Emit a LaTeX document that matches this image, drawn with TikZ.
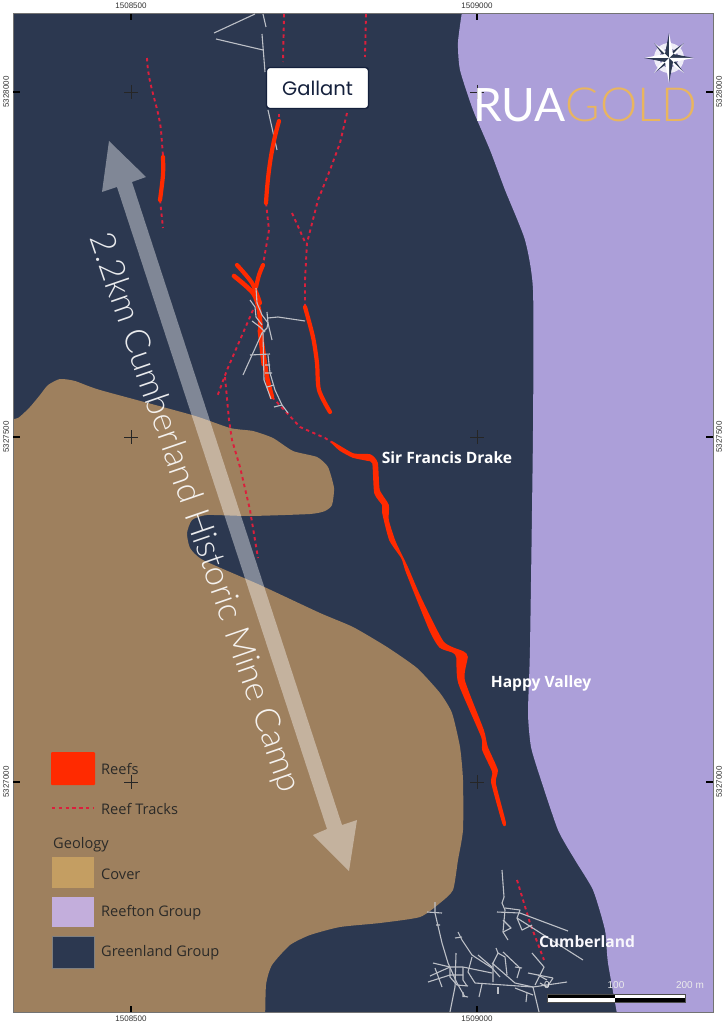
\documentclass[tikz,border=0pt]{standalone}
\usepackage{fontspec}
\setmainfont{Open Sans}
\newfontfamily\mapfont{Liberation Sans}
\newfontfamily\logofont{Lato}[UprightFont=* Light]
\newfontfamily\logoreg{Lato}
\newfontfamily\tagfont{Poppins}
\definecolor{green}{HTML}{2C3850}
\definecolor{reefton}{HTML}{AC9FD9}
\definecolor{cover}{HTML}{9E805E}
\definecolor{reefred}{HTML}{FF2A00}
\definecolor{trackred}{HTML}{DC1F3C}
\definecolor{working}{HTML}{BDC0C7}
\definecolor{legtext}{HTML}{2B2A28}
\definecolor{gold}{HTML}{E9B55F}
\definecolor{legcover}{HTML}{C49E62}
\definecolor{legreefton}{HTML}{C3AEDC}
\definecolor{navyline}{HTML}{14203C}
\tikzset{
  reef/.style={draw=reefred,line width=#1,line cap=round,line join=round},
  track/.style={draw=trackred,line width=1.9pt,dash pattern=on 3.4pt off 3.4pt},
  wk/.style={draw=working,line width=1.1pt,line join=round},
  axislabel/.style={font=\mapfont\fontsize{8}{9}\selectfont,text=black!80,inner sep=0pt},
  maplabel/.style={font=\bfseries\fontsize{15.6}{18}\selectfont,text=white,inner sep=0pt},
  legendlabel/.style={font=\fontsize{14.6}{16}\selectfont,text=legtext,inner sep=0pt,anchor=west},
  barlabel/.style={font=\mapfont\fontsize{10}{11}\selectfont,text=white!92!black,inner sep=0pt},
}
\begin{document}
\begin{tikzpicture}[x=1pt,y=-1pt]
\useasboundingbox (0,0) rectangle (725,1024);
\fill[white] (0,0) rectangle (725,1024);
\begin{scope}
\clip (13,14) rectangle (713,1012);
\fill[green] (13,14) rectangle (713,1012);
% Reefton group
\fill[reefton] plot[smooth,tension=.35] coordinates {(463,5) (458,42) (460,70) (473,110) (490,150) (505,190) (525,240) (533,290)
  (533,430) (530,647) (528,713) (531,747) (540,777) (558,830) (575,860) (593,890)
  (605,930) (608,963) (620,1030)} -- (730,1030) -- (730,5) -- cycle;
% Cover
\fill[cover] plot[smooth,tension=.35] coordinates {(5,420) (18,418) (30,407) (40,395) (48,385) (60,379) (75,381) (100,390)
  (192,415) (230,428) (253,431) (273,438) (293,451) (317,457) (328,467) (334,488)
  (332,505) (325,511) (310,514) (250,516) (207,515) (192,520) (187,533) (190,548)
  (203,560) (260,585) (320,613) (353,627) (387,647) (417,668) (440,693) (452,713)
  (460,747) (463,780) (463,830) (458,860) (453,890) (440,903) (420,917) (380,923)
  (340,927) (310,935) (290,945) (272,965) (266,985) (265,1030)} -- (5,1030) -- cycle;
\end{scope}
% graticule crosses
\foreach \cx in {131,477}\foreach \cy in {92,437,782}{
  \draw[black!85,line width=.8pt] (\cx-7,\cy) -- (\cx+7,\cy) (\cx,\cy-7) -- (\cx,\cy+7);
}
% frame
\draw[black!55,line width=1pt] (13,14) rectangle (713,1012);
\foreach \cx in {131,477}{
  \draw[black,line width=1.3pt] (\cx,14) -- (\cx,20) (\cx,1006) -- (\cx,1012);
}
\foreach \cy in {92,437,782}{
  \draw[black,line width=1.3pt] (13,\cy) -- (20,\cy) (706,\cy) -- (713,\cy);
}
\node[axislabel] (xa) at (131,6) {1508500};
\node[axislabel] (xb) at (477,6) {1509000};
\node[axislabel] (xc) at (131,1019) {1508500};
\node[axislabel] (xd) at (477,1019) {1509000};
\node[axislabel,rotate=90] (ya) at (6,92) {5328000};
\node[axislabel,rotate=90] (yb) at (6,437) {5327500};
\node[axislabel,rotate=90] (yc) at (6,782) {5327000};
\node[axislabel,rotate=90] (yd) at (719,92) {5328000};
\node[axislabel,rotate=90] (ye) at (719,437) {5327500};
\node[axislabel,rotate=90] (yf) at (719,782) {5327000};
% workings, north
\draw[wk] (255,14) -- (214,33) (216,39) -- (263,50) (263,14) -- (266,27) (262,34) -- (265,72) (268,110) -- (277,150);
% tracks
\draw[track] (147,58) .. controls (148,85) and (158,105) .. (161,130) -- (163,156);
\draw[track] (160,200) -- (163,228);
\draw[track] (284,14) -- (283,62);
\draw[track] (279,114) -- (279,121);
\draw[track] (266,203) -- (269,230) -- (263,265);
\draw[track] (366,14) -- (365,57);
\draw[track] (347,113) -- (340,143) -- (330,170) -- (318,200) -- (307,243) -- (305,280) -- (305,307);
\draw[track] (292,213) -- (305,242);
\draw[track] (253,310) -- (243,333) -- (227,370) -- (217,397);
\draw[track] (225,377) -- (229,420) -- (232,440) -- (240,467) -- (250,510) -- (258,558);
\draw[track] (272,397) -- (287,413) -- (300,427) -- (325,438) -- (333,443);
\draw[track] (517,880) -- (530,923) -- (544,960);
% short reefs
\draw[reef=4.2pt] plot[smooth] coordinates {(163,157) (163,175) (160,200)};
\draw[reef=4.2pt] (279,121) .. controls (272,145) and (268,170) .. (266,203);
\draw[reef=4.2pt] plot[smooth] coordinates {(263,265) (259,275) (256,287)};
\draw[reef=4.2pt] plot[smooth] coordinates {(237,265) (252,283) (260,303)};
\draw[reef=4.6pt] plot[smooth] coordinates {(234,276) (253,293) (259,310) (261,335) (263,350) (267,377) (272,397)};
\draw[reef=3pt] (259,330) -- (263,365);
\draw[reef=4.2pt] plot[smooth] coordinates {(305,307) (313,337) (317,363) (319,390) (330,412)};
% main reef
\filldraw[fill=reefred,draw=reefred,line width=1.6pt,line join=round] plot[smooth cycle,tension=.35] coordinates {(332,442) (353,454) (370,455) (377,463) (379,490) (388,505)
  (388,520) (395,542) (407,567) (420,597) (443,642) (463,652) (467,657) (464,680) (483,730) (487,747) (497,770)
  (495,783) (505,822) (503,823) (492,783) (493,772) (483,750) (482,737) (459,683) (457,657) (453,652) (440,647)
  (430,630) (407,573) (402,558) (390,540) (383,513) (383,505) (375,493) (373,463) (367,460) (353,457) (340,450)};
% workings, central
\draw[wk] (256,288) -- (257,303) -- (262,315) -- (268,323) -- (267,328) -- (262,333) -- (243,375);
\draw[wk] (250,300) -- (255,307) -- (256,317) -- (262,325);
\draw[wk] (252,321) -- (260,327) -- (265,332);
\draw[wk] (267,312) -- (268,323) -- (272,340);
\draw[wk] (268,318) -- (278,317) -- (305,321);
\draw[wk] (250,355) -- (270,354);
\draw[wk] (263,333) -- (264,380) -- (267,388) -- (271,399);
\draw[wk] (265,365) -- (270,365) (265,373) -- (272,373) (267,387) -- (274,385);
\draw[wk] (268,355) -- (270,373) -- (275,390) -- (282,405) -- (288,413);
\draw[wk] (274,407) -- (282,405);
% workings, Cumberland
\draw[wk] (502,870) -- (504,897) -- (502,903) -- (505,910) -- (503,932);
\draw[wk] (503,920) -- (511,928) -- (503,932) -- (508,940);
\draw[wk] (497,912) -- (520,913) -- (568,931);
\draw[wk] (505,908) -- (520,910) -- (517,918) -- (522,930) -- (532,925);
\draw[wk] (517,918) -- (528,925) -- (583,960);
\draw[wk] (435,902) -- (435,913) -- (442,943) -- (448,963) -- (457,983) -- (465,997);
\draw[wk] (427,912) -- (442,913) (436,925) -- (440,925);
\draw[wk] (458,932) -- (462,940) -- (472,955) -- (492,968) -- (500,977);
\draw[wk] (455,938) -- (462,937);
\draw[wk] (433,963) -- (450,967) -- (463,967) -- (492,973);
\draw[wk] (430,976) -- (450,967);
\draw[wk] (435,968) -- (442,987);
\draw[wk] (428,982) -- (450,975) -- (463,975);
\draw[wk] (456,953) -- (455,987) -- (450,1012);
\draw[wk] (450,967) -- (450,977) -- (457,985) -- (468,986);
\draw[wk] (463,967) -- (463,980) -- (467,986);
\draw[wk] (472,957) -- (468,972) -- (475,983) -- (533,987);
\draw[wk] (478,955) -- (492,967);
\draw[wk] (493,982) -- (493,963) -- (498,953) -- (505,957) -- (507,975);
\draw[wk] (496,948) -- (498,953);
\draw[wk] (503,952) -- (520,968) -- (517,978);
\draw[wk] (492,963) -- (515,983) -- (533,987) -- (567,982);
\draw[wk] (533,987) -- (539,1012);
\draw[wk] (532,953) -- (544,967) -- (535,985);
\draw[wk] (528,973) -- (553,978);
\draw[wk] (553,978) -- (547,987) -- (540,983);
\draw[wk] (515,967) -- (522,968);
\draw[wk] (482,984) -- (479,997);
\draw[wk] (498,987) -- (498,994);
\draw[wk] (527,993) -- (526,1002);
\draw[wk] (515,988) -- (533,995);
\draw[wk] (463,992) -- (463,997) (463,996) -- (468,997);
\draw[wk] (538,975) -- (547,980);
% Gallant label
\node[draw=navyline,fill=white,line width=1.4pt,rounded corners=3pt,minimum width=102pt,minimum height=41pt,
  inner sep=0pt,font=\tagfont\fontsize{19.5}{23}\selectfont,text=navyline] (gallant) at (317.5,88) {Gallant};
% distance arrow
\fill[white,opacity=.4] (109,141) -- (146,177) -- (132,182) -- (342,825) -- (357,820) -- (349,871) -- (313,835)
  -- (327,829) -- (117,187) -- (102,192) -- cycle;
\node[rotate=-71,inner sep=0pt,font=\logofont\fontsize{34.5}{38}\selectfont,text=white,text opacity=.9] (camp) at (194,513)
  {2.2km Cumberland Historic Mine Camp};
% place labels
\node[maplabel] (sfd) at (447,458) {Sir Francis Drake};
\node[maplabel] (hv) at (541,683) {Happy Valley};
\node[maplabel,text=white!92!reefton] (cb) at (587,942) {Cumberland};
% logo
\node[anchor=base west,inner sep=0pt,font=\logoreg\fontsize{46}{50}\selectfont,text=white] (logoa) at (473,122) {RUA};
\node[anchor=base east,inner sep=0pt,font=\logofont\fontsize{47}{50}\selectfont,text=gold] (logob) at (697,122) {GOLD};
% compass
\fill[white!80!reefton] (669,58) circle (15);
\fill[reefton!75!green] (669,58) circle (9.5);
\foreach \a in {45,135,225,315}{
  \begin{scope}[shift={(669,58)},rotate=\a]
    \fill[green] (0,0) -- (3,-3) -- (21,0) -- cycle;
    \fill[white] (0,0) -- (3,3) -- (21,0) -- cycle;
  \end{scope}
}
\foreach \a in {0,90,180,270}{
  \begin{scope}[shift={(669,58)},rotate=\a]
    \fill[green] (0,0) -- (4,-4) -- (25,0) -- cycle;
    \fill[white] (0,0) -- (4,4) -- (25,0) -- cycle;
  \end{scope}
}
% legend
\fill[reefred,rounded corners=1pt] (51,752) rectangle (95,785);
\node[legendlabel] (lr) at (101,769) {Reefs};
\draw[track,line width=1.3pt] (52,808) -- (94,808);
\node[legendlabel] (lt) at (101,809) {Reef Tracks};
\node[legendlabel] (lg) at (53,845) {Geology};
\fill[legcover] (52,857) rectangle (94,888);
\node[legendlabel] (lc) at (101,874) {Cover};
\fill[legreefton] (52,897) rectangle (94,927);
\node[legendlabel] (lrg) at (101,913) {Reefton Group};
\draw[fill=green,draw=black!50,line width=.5pt] (52,936) rectangle (94,968);
\node[legendlabel] (lgg) at (101,953) {Greenland Group};
% scale bar
\fill[black] (547,994) rectangle (615,998);
\fill[white] (547,998) rectangle (615,1002);
\fill[white] (615,994) rectangle (685,998);
\fill[black] (615,998) rectangle (685,1002);
\draw[black!70,line width=.5pt] (547,994) rectangle (685,1002);
\node[barlabel] (s0) at (547,985) {0};
\node[barlabel] (s1) at (616,985) {100};
\node[barlabel] (s2) at (690,985) {200 m};
\end{tikzpicture}
\end{document}
